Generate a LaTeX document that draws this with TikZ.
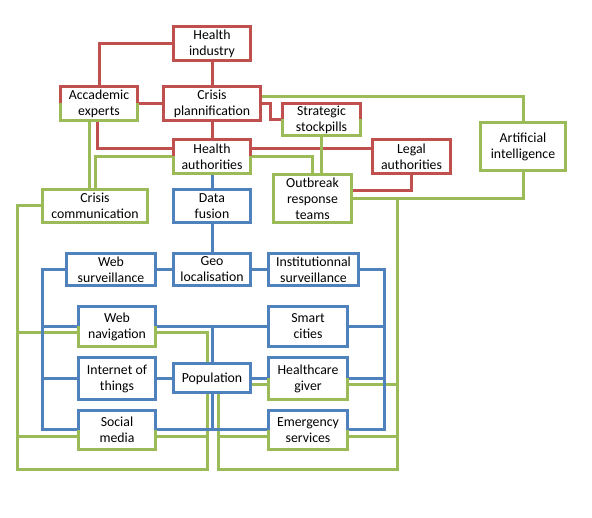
\documentclass[tikz,border=0pt]{standalone}
\usepackage{fontspec}
\setmainfont{Carlito}
\usetikzlibrary{backgrounds}

\definecolor{redc}{HTML}{C0504D}
\definecolor{greenc}{HTML}{9BBB59}
\definecolor{bluec}{HTML}{4F81BD}

\begin{document}
\begin{tikzpicture}[x=1pt,y=-1pt,
    font=\fontsize{13.8}{16}\selectfont,
    box/.style={fill=white, line width=3pt, align=center, inner sep=0pt, outer sep=0pt},
    redbox/.style={box, draw=redc},
    greenbox/.style={box, draw=greenc},
    bluebox/.style={box, draw=bluec},
    redlink/.style={draw=redc, line width=3pt},
    greenlink/.style={draw=greenc, line width=3pt},
    bluelink/.style={draw=bluec, line width=3pt},
]
\useasboundingbox (0,0) rectangle (592,518);

% top: red and green boxes
\node[redbox, minimum width=77pt, minimum height=34pt] (hind) at (212,43.5) {Health\\industry};
\node[box, minimum width=77pt, minimum height=34pt] (acad) at (99,103.5) {Accademic\\experts};
\node[redbox, minimum width=97pt, minimum height=34pt] (cplan) at (212,103.5) {Crisis\\plannification};
\node[box, minimum width=77pt, minimum height=34pt] (hauth) at (212,156.5) {Health\\authorities};
\node[box, minimum width=78pt, minimum height=32pt] (strat) at (321.5,119.5) {Strategic\\stockpills};
\node[redbox, minimum width=78pt, minimum height=34pt] (legal) at (411.5,156.5) {Legal\\authorities};
\node[greenbox, minimum width=85pt, minimum height=48pt] (ai) at (523,146.5) {Artificial\\intelligence};
\node[greenbox, minimum width=105pt, minimum height=33pt] (ccom) at (95,206) {Crisis\\communication};
\node[bluebox, minimum width=77pt, minimum height=33pt] (dfus) at (212,206) {Data\\fusion};
\node[greenbox, minimum width=78pt, minimum height=48pt] (outb) at (312.5,198.5) {Outbreak\\response\\teams};

% bottom: blue boxes
\node[bluebox, minimum width=89pt, minimum height=32pt] (wsurv) at (111,269.5) {Web\\surveillance};
\node[bluebox, minimum width=77pt, minimum height=32pt] (geo) at (212,269.5) {Geo\\localisation};
\node[bluebox, minimum width=90pt, minimum height=32pt] (isurv) at (313.5,269.5) {Institutionnal\\surveillance};
\node[box, minimum width=77pt, minimum height=40pt] (wnav) at (117,326.5) {Web\\navigation};
\node[bluebox, minimum width=79pt, minimum height=40pt] (smart) at (308,326.5) {Smart\\cities};
\node[bluebox, minimum width=77pt, minimum height=42pt] (iot) at (117,378.5) {Internet of\\things};
\node[bluebox, minimum width=77pt, minimum height=29pt] (pop) at (212,378.5) {Population};
\node[box, minimum width=79pt, minimum height=42pt] (hcare) at (308,378.5) {Healthcare\\giver};
\node[box, minimum width=77pt, minimum height=39pt] (social) at (117,430) {Social\\media};
\node[box, minimum width=79pt, minimum height=39pt] (emerg) at (308,430) {Emergency\\services};

% two-colour borders
\draw[redlink] (acad.west) |- (acad.north) -| (acad.east);
\draw[greenlink] (acad.west) |- (acad.south) -| (acad.east);
\draw[redlink] (hauth.west) |- (hauth.north) -| (hauth.east);
\draw[greenlink] (hauth.west) |- (hauth.south) -| (hauth.east);
\draw[redlink] (strat.west) |- (strat.north) -| (strat.east);
\draw[greenlink] (strat.west) |- (strat.south) -| (strat.east);
\draw[bluelink] (wnav.west) |- (wnav.north) -| (wnav.east);
\draw[greenlink] (wnav.west) |- (wnav.south) -| (wnav.east);
\draw[bluelink] (hcare.west) |- (hcare.north) -| (hcare.east);
\draw[greenlink] (hcare.west) |- (hcare.south) -| (hcare.east);
\draw[bluelink] (social.west) |- (social.north) -| (social.east);
\draw[greenlink] (social.west) |- (social.south) -| (social.east);
\draw[bluelink] (emerg.west) |- (emerg.north) -| (emerg.east);
\draw[greenlink] (emerg.west) |- (emerg.south) -| (emerg.east);

\coordinate (gl) at (17,470);
\coordinate (gr) at (397,470);
\coordinate (bl) at (42,430);
\coordinate (br) at (384,430);

\begin{scope}[on background layer]
% red links
\draw[redlink] (hind.west) -| (acad.north);
\draw[redlink] (hind.south) -- (cplan.north);
\draw[redlink] (acad.east) -- (cplan.west);
\draw[redlink] (cplan.south) -- (hauth.north);
\draw[redlink] ([xshift=-2pt]acad.south) |- ([yshift=8pt]hauth.west);
\draw[redlink] (cplan.east) -- ++(10,0) |- (strat.west);
\draw[redlink] ([yshift=8pt]hauth.east) -- ([yshift=8pt]legal.west);
\draw[redlink] (legal.south) |- ([yshift=8pt]outb.east);

% green links
\draw[greenlink] ([yshift=7pt]cplan.east) -| (ai.north);
\draw[greenlink] ([xshift=-10pt]acad.south) -- ([xshift=-6pt]ccom.north);
\draw[greenlink] (hauth.west) -| (ccom.north);
\draw[greenlink] (hauth.east) -| (outb.north);
\draw[greenlink] (strat.south) -- (strat.south |- outb.north);
\draw[greenlink] (ai.south) |- (outb.east);
\draw[greenlink] (ccom.west) -| (gl) -| ([xshift=-5pt]pop.south);
\draw[greenlink] ([yshift=-6pt]wnav.west) -| (gl);
\draw[greenlink] ([yshift=-6pt]wnav.east) -| ([xshift=-5pt]pop.north);
\draw[greenlink] ([yshift=-7pt]social.west) -| (gl);
\draw[greenlink] ([yshift=-7pt]social.east) -| ([xshift=-5pt]pop.south);
\draw[greenlink] (outb.east) -| (gr) -| ([xshift=6pt]pop.south);
\draw[greenlink] ([yshift=-7pt]emerg.west) -| ([xshift=6pt]pop.south);
\draw[greenlink] ([yshift=-7pt]emerg.east) -| (gr);
\draw[greenlink] ([yshift=-6pt]hcare.east) -| (gr);
\draw[greenlink] ([yshift=-6pt]pop.east) -- ([yshift=-6pt]hcare.west);

% blue links
\draw[bluelink] (hauth.south) -- (dfus.north);
\draw[bluelink] (dfus.south) -- (geo.north);
\draw[bluelink] (geo.west) -- (wsurv.east);
\draw[bluelink] (geo.east) -- (isurv.west);
\draw[bluelink] (wsurv.west) -| (bl) -- (social.west);
\draw[bluelink] (wnav.west) -| (bl);
\draw[bluelink] (iot.west) -| (bl);
\draw[bluelink] (wnav.east) -- (smart.west);
\draw[bluelink] (pop.north) -- (pop.north |- smart.west);
\draw[bluelink] (social.east) -- (emerg.west);
\draw[bluelink] (pop.south) -- (pop.south |- emerg.west);
\draw[bluelink] (iot.east) -- (pop.west);
\draw[bluelink] (pop.east) -- (hcare.west);
\draw[bluelink] (isurv.east) -| (br) -- (emerg.east);
\draw[bluelink] (smart.east) -| (br);
\draw[bluelink] (hcare.east) -| (br);
\end{scope}

\end{tikzpicture}
\end{document}
